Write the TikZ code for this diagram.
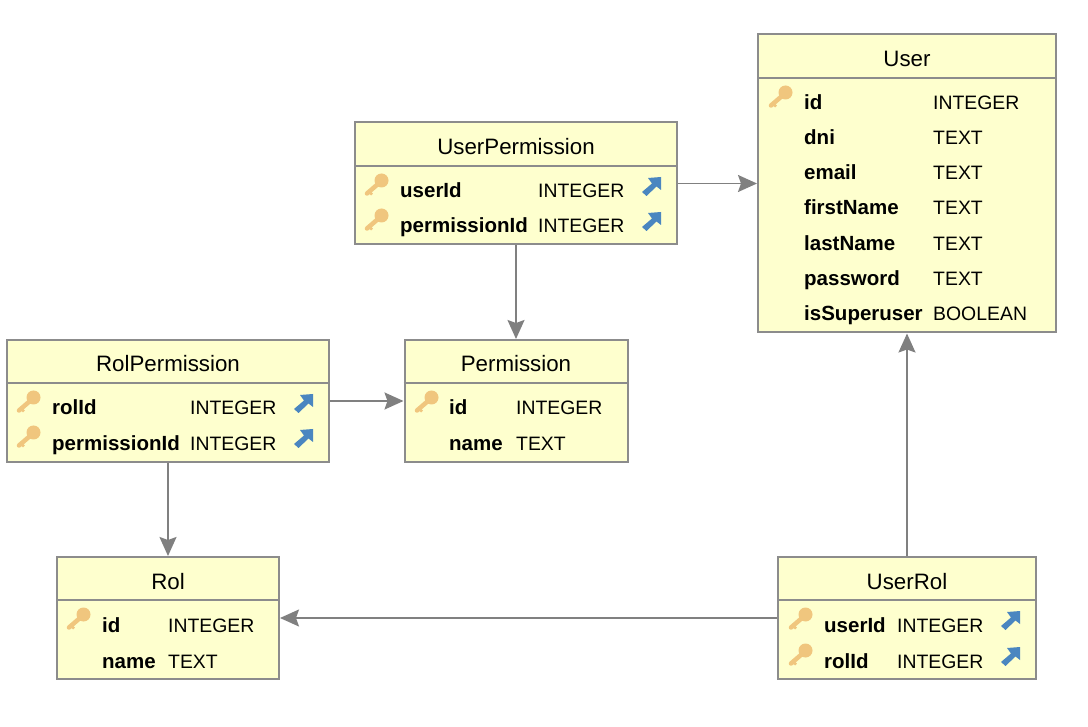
\documentclass[tikz,border=0pt]{standalone}
\usepackage{fontspec}
\setmainfont{Liberation Sans}
\usetikzlibrary{arrows.meta, positioning}
\definecolor{myFill}{RGB}{254,255,206}
\definecolor{myLine}{RGB}{140,140,140}
\definecolor{myArrow}{RGB}{128,128,128}
\definecolor{myKey}{RGB}{240,198,126}
\definecolor{myLink}{RGB}{74,134,192}

\begin{document}
\begin{tikzpicture}[
		x=1pt, y=-1pt,
		tablebox/.style={draw=myLine, line width=2pt, fill=myFill, inner sep=0pt},
		titletext/.style={anchor=base, font=\fontsize{22.3}{24}\selectfont, inner sep=0pt},
		fieldname/.style={anchor=base west, font=\fontsize{20.5}{24}\selectfont\bfseries, inner sep=0pt},
		fieldtype/.style={anchor=base west, font=\fontsize{19.4}{24}\selectfont, inner sep=0pt},
		divider/.style={myLine, line width=1.8pt},
		arr/.style={-{Stealth[length=19pt, width=17pt, inset=3pt]}, line width=1.8pt, myArrow},
		keyicon/.pic={
			\fill[myKey] (5.5,-9.5) circle (7);
			\draw[myKey, line width=4.5pt, line cap=round] (2,-6) -- (-9,3.5);
			\draw[myKey, line width=2.5pt] (-7,1.5) -- (-4,4.5);
		},
		linkicon/.pic={
			\fill[myLink] (-10,2) -- (0,-6.5) -- (-4,-12) -- (9,-13) -- (9,0) -- (4.5,-3.5) -- (-5.5,6) -- cycle;
		}
	]
	\useasboundingbox (0,0) rectangle (1088,727);

	% tables
	\node[tablebox, minimum width=298pt, minimum height=298pt] (user) at (907,183.5) {};
	\node[tablebox, minimum width=322pt, minimum height=122pt] (userPermission) at (516,183.5) {};
	\node[tablebox, minimum width=223pt, minimum height=122pt] (permission) at (516,401) {};
	\node[tablebox, minimum width=322pt, minimum height=122pt] (rolPermission) at (168,401) {};
	\node[tablebox, minimum width=222pt, minimum height=122pt] (rol) at (168,618) {};
	\node[tablebox, minimum width=258pt, minimum height=122pt] (userRol) at (907,618) {};

	\node[titletext] (userTitle) at (907,67) {User};
	\node[titletext] (userPermissionTitle) at (516,155) {UserPermission};
	\node[titletext] (permissionTitle) at (516,372) {Permission};
	\node[titletext] (rolPermissionTitle) at (168,372) {RolPermission};
	\node[titletext] (rolTitle) at (168,589) {Rol};
	\node[titletext] (userRolTitle) at (907,589) {UserRol};

	\draw[divider] (user.west |- 0,78) -- (user.east |- 0,78);
	\draw[divider] (userPermission.west |- 0,166) -- (userPermission.east |- 0,166);
	\draw[divider] (permission.west |- 0,383) -- (permission.east |- 0,383);
	\draw[divider] (rolPermission.west |- 0,383) -- (rolPermission.east |- 0,383);
	\draw[divider] (rol.west |- 0,600) -- (rol.east |- 0,600);
	\draw[divider] (userRol.west |- 0,600) -- (userRol.east |- 0,600);

	% fields
	\foreach \fid/\fname/\ftype/\fy in {id/id/INTEGER/102, dni/dni/TEXT/137, email/email/TEXT/172, firstName/firstName/TEXT/207, lastName/lastName/TEXT/243, password/password/TEXT/278, isSuperuser/isSuperuser/BOOLEAN/313} {
		\node[fieldname] (user-\fid) at (804,\fy+8) {\fname};
		\node[fieldtype] (user-\fid-type) at (933,\fy+8) {\ftype};
	}
	\foreach \fid/\fname/\fy in {userId/userId/190, permissionId/permissionId/225} {
		\node[fieldname] (userPermission-\fid) at (400,\fy+8) {\fname};
		\node[fieldtype] (userPermission-\fid-type) at (538,\fy+8) {INTEGER};
		\pic at (376,\fy) {keyicon};
		\pic at (652,\fy) {linkicon};
	}
	\foreach \fid/\fname/\fy in {rolId/rolId/407, permissionId/permissionId/442} {
		\node[fieldname] (rolPermission-\fid) at (52,\fy+8) {\fname};
		\node[fieldtype] (rolPermission-\fid-type) at (190,\fy+8) {INTEGER};
		\pic at (28,\fy) {keyicon};
		\pic at (304,\fy) {linkicon};
	}
	\foreach \fid/\fname/\fy in {userId/userId/624, rolId/rolId/660} {
		\node[fieldname] (userRol-\fid) at (824,\fy+8) {\fname};
		\node[fieldtype] (userRol-\fid-type) at (897,\fy+8) {INTEGER};
		\pic at (800,\fy) {keyicon};
		\pic at (1011,\fy) {linkicon};
	}
	\node[fieldname] (permission-id) at (449,415) {id};
	\node[fieldtype] (permission-id-type) at (516,415) {INTEGER};
	\node[fieldname] (permission-name) at (449,450) {name};
	\node[fieldtype] (permission-name-type) at (516,450) {TEXT};
	\node[fieldname] (rol-id) at (102,632) {id};
	\node[fieldtype] (rol-id-type) at (168,632) {INTEGER};
	\node[fieldname] (rol-name) at (102,668) {name};
	\node[fieldtype] (rol-name-type) at (168,668) {TEXT};
	\pic at (780,102) {keyicon};
	\pic at (426,407) {keyicon};
	\pic at (78,624) {keyicon};

	% links
	\draw[arr] (userPermission) -- (user);
	\draw[arr] (userPermission) -- (permission);
	\draw[arr] (rolPermission) -- (permission);
	\draw[arr] (rolPermission) -- (rol);
	\draw[arr] (userRol) -- (rol);
	\draw[arr] (userRol) -- (user);
\end{tikzpicture}
\end{document}
